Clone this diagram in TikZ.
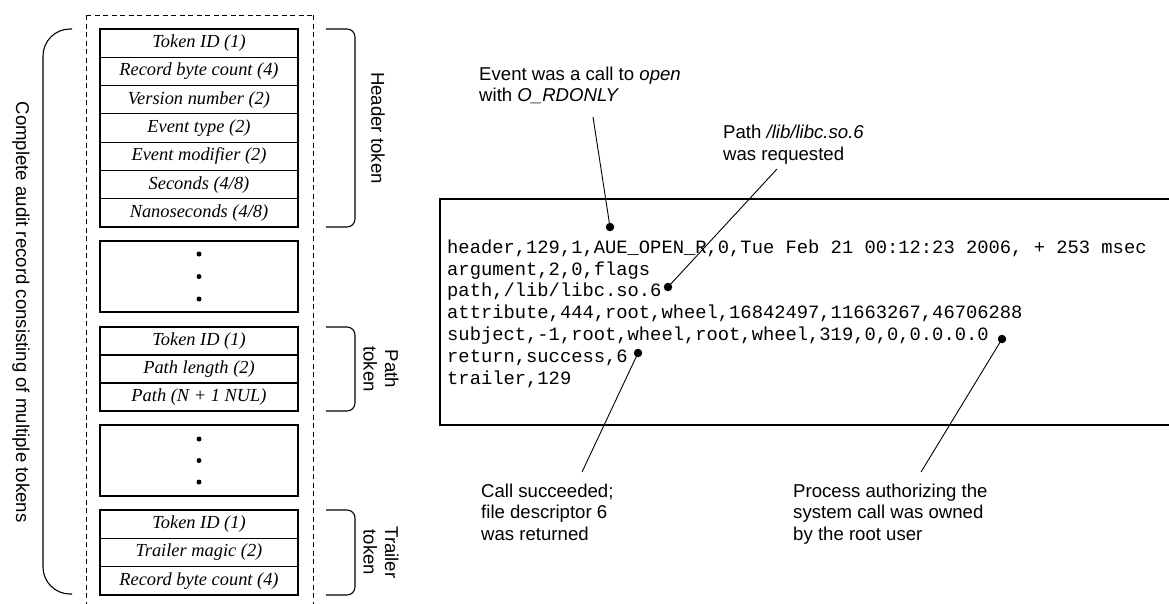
\documentclass[tikz,border=0pt]{standalone}
\usepackage{fontspec}
\setmainfont{Liberation Serif}
\setsansfont{Liberation Sans}
\setmonofont{Liberation Mono}
\newcommand\fieldfont{\fontsize{18.4pt}{21pt}\selectfont\rmfamily\itshape}
\newcommand\notefont{\fontsize{18.6pt}{21.5pt}\selectfont\sffamily}
\newcommand\codefont{\fontsize{18.8pt}{21.9pt}\selectfont\ttfamily}
\begin{document}
\begin{tikzpicture}[x=1pt,y=-1pt,
  field/.style={draw, line width=1.1pt, minimum width=198pt, minimum height=28.3pt,
                inner sep=0pt, font=\fieldfont},
  gapbox/.style={draw, line width=1.1pt, minimum width=198pt, minimum height=71pt, inner sep=0pt},
  ellipsisdot/.style={circle, fill, inner sep=0pt, minimum size=5pt},
  brace/.style={line width=1.1pt, rounded corners=8pt},
  sidelabel/.style={font=\notefont, rotate=-90, align=center, inner sep=0pt},
  % multi-line nodes: the base anchor sits on the last line
  note/.style={font=\notefont, align=left, anchor=base west, inner sep=0pt},
  pin/.style={circle, fill, inner sep=0pt, minimum size=8.5pt},
  leader/.style={line width=0.9pt}]
\useasboundingbox (0,0) rectangle (1169,603);

% record outline
\draw[line width=0.9pt, dash pattern=on 5pt off 3.5pt] (86,15) -- (86,610)
  (313,15) -- (313,610) (86,15) -- (313,15);

% header token fields
\node[field] (h1) at (199,43.14) {Token ID (1)};
\node[field] (h2) at (199,71.43) {Record byte count (4)};
\node[field] (h3) at (199,99.71) {Version number (2)};
\node[field] (h4) at (199,128.0) {Event type (2)};
\node[field] (h5) at (199,156.29) {Event modifier (2)};
\node[field] (h6) at (199,184.57) {Seconds (4/8)};
\node[field] (h7) at (199,212.86) {Nanoseconds (4/8)};

% elided tokens
\node[gapbox] (g1) at (199,276.5) {};
\node[ellipsisdot] at (199,254) {};
\node[ellipsisdot] at (199,276.5) {};
\node[ellipsisdot] at (199,299) {};

% path token fields
\node[field, minimum height=28pt] (p1) at (199,341) {Token ID (1)};
\node[field, minimum height=28pt] (p2) at (199,369) {Path length (2)};
\node[field, minimum height=28pt] (p3) at (199,397) {Path (N + 1 NUL)};

\node[gapbox] (g2) at (199,460.5) {};
\node[ellipsisdot] at (199,439) {};
\node[ellipsisdot] at (199,460.5) {};
\node[ellipsisdot] at (199,482) {};

% trailer token fields
\node[field] (t1) at (199,524.17) {Token ID (1)};
\node[field] (t2) at (199,552.5) {Trailer magic (2)};
\node[field] (t3) at (199,580.83) {Record byte count (4)};

% braces
\draw[line width=1.1pt, rounded corners=27pt] (72,29) -- (43,29) -- (43,594) -- (72,594);
\draw[brace] (326,29) -- (355,29) -- (355,227) -- (326,227);
\draw[brace] (326,327) -- (355,327) -- (355,411) -- (326,411);
\draw[brace] (326,510) -- (355,510) -- (355,595) -- (326,595);

\node[sidelabel] (lrec) at (21,312) {Complete audit record consisting of multiple tokens};
\node[sidelabel] (lhead) at (378,128) {Header token};
\node[sidelabel] (lpath) at (381,369) {Path\\token};
\node[sidelabel] (ltrail) at (381,552.5) {Trailer\\token};

% audit trail text
\draw[line width=1.3pt] (1175,199) -- (440,199) -- (440,425) -- (1175,425);
\node[font=\codefont, align=left, anchor=base west, inner sep=0pt] (code) at (447,384.5)
  {header,129,1,AUE\_OPEN\_R,0,Tue Feb 21 00:12:23 2006, + 253 msec\\
   argument,2,0,flags\\
   path,/lib/libc.so.6\\
   attribute,444,root,wheel,16842497,11663267,46706288\\
   subject,-1,root,wheel,root,wheel,319,0,0,0.0.0.0\\
   return,success,6\\
   trailer,129};

% annotations
\node[note] (nopen) at (479,101.5) {Event was a call to \textit{open}\\with \textit{O\_RDONLY}};
\node[note] (npath) at (723,160) {Path \textit{/lib/libc.so.6}\\was requested};
\node[note] (nret) at (481,540) {Call succeeded;\\file descriptor 6\\was returned};
\node[note] (nsubj) at (793,540) {Process authorizing the\\system call was owned\\by the root user};

\node[pin] (dopen) at (610,227) {};
\node[pin] (dpath) at (668,287) {};
\node[pin] (dret) at (638,353) {};
\node[pin] (dsubj) at (1002,339) {};

\coordinate (eopen) at (593,117);
\coordinate (epath) at (777,169);
\coordinate (eret) at (582,472);
\coordinate (esubj) at (921,472);

\draw[leader] (eopen) -- (dopen.center);
\draw[leader] (epath) -- (dpath.center);
\draw[leader] (eret) -- (dret.center);
\draw[leader] (esubj) -- (dsubj.center);
\end{tikzpicture}
\end{document}
